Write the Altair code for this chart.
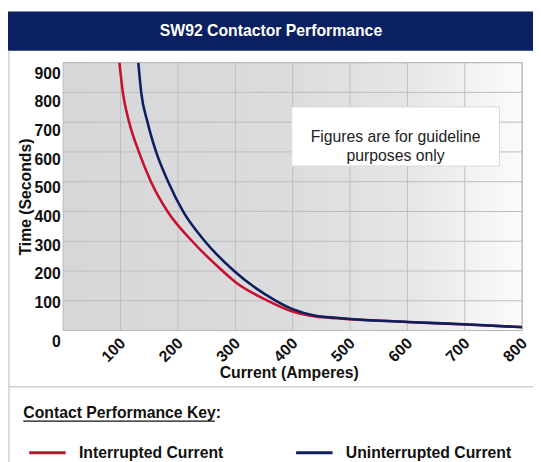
import altair as alt
import pandas as pd

# ---------------- data ----------------
interrupted_current = [98, 104, 115, 132, 153, 182, 225, 278, 300, 357, 400, 440, 476, 500, 600, 700, 800]
interrupted_time = [900, 800, 700, 600, 500, 400, 300, 200, 163, 100, 64, 47, 41, 38, 29, 20, 12]
uninterrupted_current = [131, 136, 147, 162, 183, 209, 247, 298, 371, 400, 440, 476, 500, 600, 700, 800]
uninterrupted_time = [900, 800, 700, 600, 500, 400, 300, 200, 100, 72, 50, 43, 39, 29, 21, 11]
series_names = ["Interrupted Current", "Uninterrupted Current"]
x_ticks = [100, 200, 300, 400, 500, 600, 700, 800]
y_ticks = [0, 100, 200, 300, 400, 500, 600, 700, 800, 900]
title_text = "SW92 Contactor Performance"
note_lines = ["Figures are for guideline", "purposes only"]
key_title = "Contact Performance Key:"

rows = []
for c, t in zip(interrupted_current, interrupted_time):
    rows.append({"x": c, "y": t, "series": series_names[0]})
for c, t in zip(uninterrupted_current, uninterrupted_time):
    rows.append({"x": c, "y": t, "series": series_names[1]})
df = pd.DataFrame(rows)
one = pd.DataFrame({"k": [0]})

# ---------------- styling ----------------
FONT = "Liberation Sans"
RED = "#c8102e"
NAVY = "#0c1f5e"
BAR = "#0a2060"
GRID = "#bdbdbd"
W, H = 466, 272

x_scale = alt.Scale(domain=[0, 800], nice=False, zero=True)
y_scale = alt.Scale(domain=[0, 900], nice=False, zero=True)

x_axis = alt.Axis(
    values=x_ticks, grid=False, domain=False, ticks=False,
    labelAngle=315, labelAlign="right", labelBaseline="middle",
    labelPadding=10, labelOffset=2, labelFlush=False, labelOverlap=False,
    labelFont=FONT, labelFontSize=16, labelFontWeight="bold", labelColor="#111",
    title="Current (Amperes)", titleFont=FONT, titleFontSize=16, titleFontWeight="bold",
    titleColor="#111", titleX=229, titleY=43, titleAlign="center", titleBaseline="middle",
    titleAngle=0,
)
y_axis = alt.Axis(
    values=y_ticks, grid=False, domain=False, ticks=False,
    labelPadding=3, labelFlush=False, labelOverlap=False,
    labelOffset={"condition": {"test": "datum.value === 0", "value": 11},
                 "expr": "2 + (datum.value - 100) * 0.011"},
    labelFont=FONT, labelFontSize=16, labelFontWeight="bold", labelColor="#111",
    title="Time (Seconds)", titleFont=FONT, titleFontSize=16, titleFontWeight="bold",
    titleColor="#111", titleAngle=270, titleX=-38, titleY=136,
    titleAlign="center", titleBaseline="middle",
)

bg = alt.Chart(one).mark_rect(
    color=alt.LinearGradient(
        gradient="linear", x1=0, x2=1, y1=0, y2=0,
        stops=[alt.GradientStop(offset=0, color="#d6d7d9"),
               alt.GradientStop(offset=0.5, color="#dcdcde"),
               alt.GradientStop(offset=0.75, color="#e6e6e7"),
               alt.GradientStop(offset=1, color="#fbfbfb")])
).encode(x=alt.value(0), x2=alt.value(W), y=alt.value(0), y2=alt.value(H))

grid_v = alt.Chart(pd.DataFrame({"x": x_ticks})).mark_rule(color=GRID, strokeWidth=1).encode(
    x=alt.X("x:Q", scale=x_scale, axis=x_axis), y=alt.value(0), y2=alt.value(H))
grid_h = alt.Chart(pd.DataFrame({"y": y_ticks})).mark_rule(color=GRID, strokeWidth=1).encode(
    y=alt.Y("y:Q", scale=y_scale, axis=y_axis), x=alt.value(0), x2=alt.value(W))

border = alt.Chart(one).mark_rect(fillOpacity=0, stroke="#b8b8b8", strokeWidth=1).encode(
    x=alt.value(0), x2=alt.value(W), y=alt.value(0), y2=alt.value(H))

lines = alt.Chart(df).mark_line(strokeWidth=2.6, interpolate="monotone", clip=True).encode(
    x=alt.X("x:Q", scale=x_scale, axis=x_axis),
    y=alt.Y("y:Q", scale=y_scale, axis=y_axis),
    color=alt.Color("series:N",
                    scale=alt.Scale(domain=series_names, range=[RED, NAVY]),
                    legend=alt.Legend(orient="none", legendX=-36, legendY=376,
                                      direction="horizontal", title=None, padding=0,
                                      symbolType="stroke", symbolSize=1369,
                                      symbolStrokeWidth=3, labelOffset=12,
                                      columnPadding=67, labelLimit=400,
                                      labelFont=FONT, labelFontSize=16,
                                      labelFontWeight="bold", labelColor="#111")),
)

note_box = alt.Chart(one).mark_rect(color="white", stroke="#d8d8d8", strokeWidth=1).encode(
    x=alt.value(232), x2=alt.value(443), y=alt.value(45), y2=alt.value(105))
note_text = alt.Chart(one).mark_text(
    text=note_lines, font=FONT, fontSize=16, color="#222", align="center",
    baseline="middle", lineHeight=19).encode(x=alt.value(337.5), y=alt.value(76))

title_bar = alt.Chart(one).mark_rect(color=BAR).encode(
    x=alt.value(-56), x2=alt.value(W + 12), y=alt.value(-52), y2=alt.value(-12))
title_mark = alt.Chart(one).mark_text(
    text=title_text, font=FONT, fontSize=16, fontWeight="bold", color="white",
    align="center", baseline="middle").encode(x=alt.value(211), y=alt.value(-32))

panel_left = alt.Chart(one).mark_rule(color="#d0d0d0", strokeWidth=1.5).encode(
    x=alt.value(-55), y=alt.value(-12), y2=alt.value(410))
divider = alt.Chart(one).mark_rule(color="#d0d0d0", strokeWidth=1.5).encode(
    x=alt.value(-56), x2=alt.value(W + 12), y=alt.value(329))

key_text = alt.Chart(one).mark_text(
    text=key_title, font=FONT, fontSize=16, fontWeight="bold", color="#111",
    align="left", baseline="middle").encode(x=alt.value(-40.5), y=alt.value(356))
key_underline = alt.Chart(one).mark_rule(color="#111", strokeWidth=1.2).encode(
    x=alt.value(-40.5), x2=alt.value(154), y=alt.value(364))

chart = alt.layer(
    bg, grid_v, grid_h, border, lines, note_box, note_text,
    title_bar, title_mark, panel_left, divider, key_text, key_underline
).properties(
    width=W, height=H,
    padding={"left": 56, "top": 52, "right": 11, "bottom": 130},
    autosize=alt.AutoSizeParams(type="none"),
    background="white",
).configure_view(strokeWidth=0)

chart.save("out.html", embed_options={"renderer": "svg", "actions": False})
